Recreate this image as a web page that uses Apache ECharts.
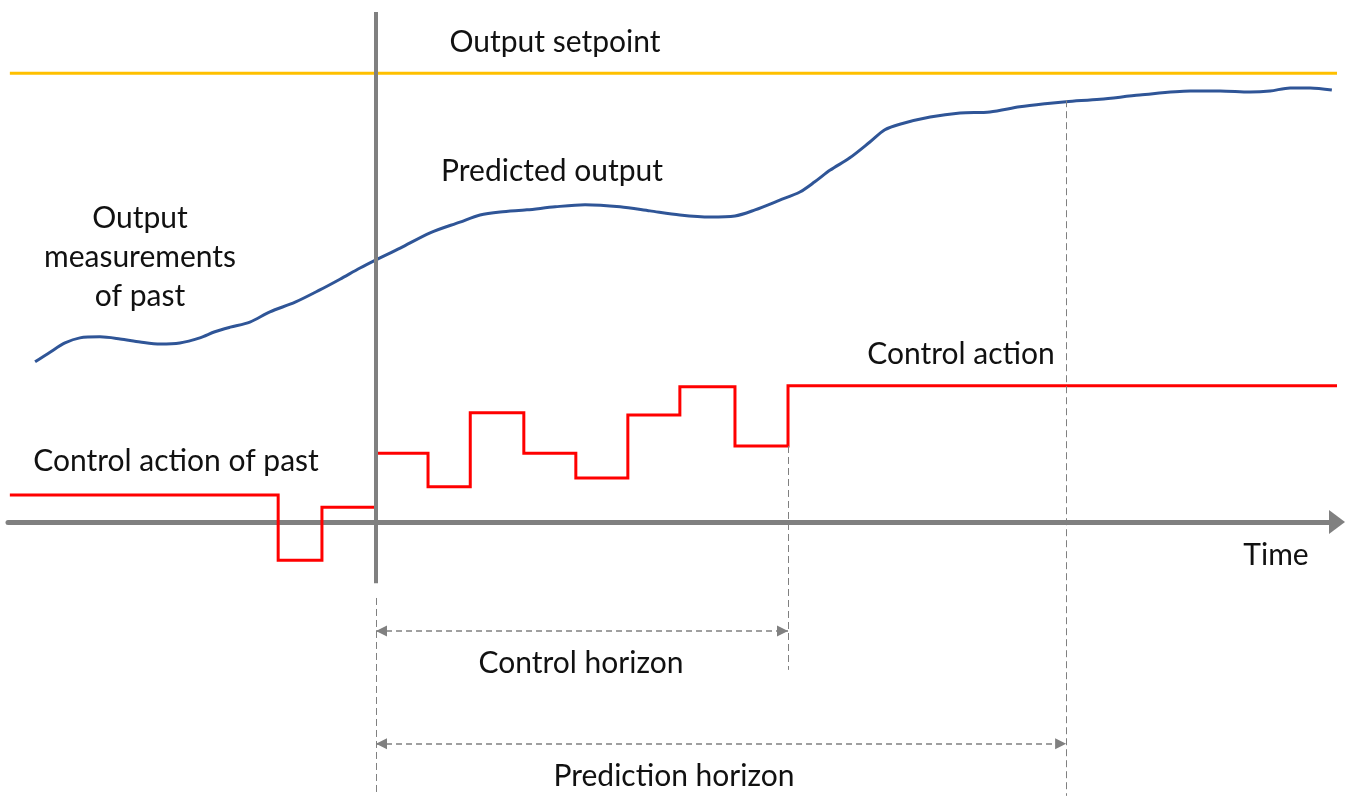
<!DOCTYPE html>
<html>
<head>
<meta charset="utf-8">
<script src="https://cdn.jsdelivr.net/npm/echarts@6/dist/echarts.min.js"></script>
<style>
  html, body { margin: 0; padding: 0; background: #ffffff; }
  #chart { width: 1352px; height: 796px; }
</style>
</head>
<body>
<div id="chart"></div>
<script>
// Time is measured in sample steps (0 = current instant k); signals in % of range.
const setpointTimes = [-7.11, 18.66];
const setpointLevel = 88;

// Measured (t < 0) and predicted (t >= 0) plant output
const outputTimes = [
  -6.62, -6.33, -6.04, -5.75, -5.36, -4.97, -4.58, -4.19, -3.81, -3.42,
  -3.13, -2.83, -2.45, -2.06, -1.57, -1.09, -0.70, -0.31, 0.00, 0.47,
  1.05, 1.63, 2.02, 2.41, 2.93, 3.48, 4.06, 4.74, 5.32, 5.90,
  6.49, 6.97, 7.36, 7.84, 8.23, 8.52, 8.82, 9.20, 9.59, 9.88,
  10.17, 10.76, 11.34, 11.92, 12.50, 12.99, 13.40, 14.06, 14.83, 15.81,
  16.39, 16.97, 17.36, 17.75, 18.14, 18.56
];
const outputValues = [
  31.4, 33.3, 35.1, 36.1, 36.3, 35.9, 35.3, 34.9, 35.1, 36.1,
  37.3, 38.2, 39.2, 41.2, 43.1, 45.5, 47.6, 49.8, 51.4, 53.7,
  56.7, 58.8, 60.2, 60.8, 61.2, 61.8, 62.2, 61.8, 61.0, 60.2,
  59.8, 60.0, 61.2, 63.1, 64.7, 66.7, 69.0, 71.4, 74.5, 76.9,
  78.0, 79.4, 80.2, 80.4, 81.4, 82.0, 82.4, 82.9, 83.7, 84.5,
  84.5, 84.3, 84.5, 85.1, 85.1, 84.7
];

// Piecewise-constant control moves: value held from each time to the next one
const controlTimes  = [-7.11, -1.90, -1.05, 0.00, 1.01, 1.83, 2.87, 3.88, 4.89, 5.90, 6.97, 8.00, 18.66];
const controlValues = [  5.3,  -7.5,   2.9, 13.5,  6.9, 21.4, 13.5,  8.6, 21.0, 26.5, 14.9, 26.7, 26.7];

const controlHorizon = 8.0;
const predictionHorizon = 13.4;

const labels = {
  setpoint: 'Output setpoint',
  predicted: 'Predicted output',
  measured: 'Output\nmeasurements\nof past',
  action: 'Control action',
  pastAction: 'Control action of past',
  time: 'Time',
  ctrlHorizon: 'Control horizon',
  predHorizon: 'Prediction horizon'
};

const zip = (xs, ys) => xs.map((x, i) => [x, ys[i]]);

const GRAY = '#808080';
const FONT = 'Lato, "Open Sans", sans-serif';
const textStyle = (x, y, text) => ({
  type: 'text', x: x, y: y, silent: true,
  style: {
    text: text, fill: '#111111', font: '30px ' + FONT,
    align: 'center', verticalAlign: 'middle', lineHeight: 39
  }
});

const chart = echarts.init(document.getElementById('chart'), null, { renderer: 'canvas' });

const dashed = { color: GRAY, width: 1, type: [7, 4] };
const arrowEnd = (t, v) => ({ coord: [t, v], symbol: 'triangle', symbolSize: [11, 11], symbolOffset: [0, 5.5] });

chart.setOption({
  animation: false,
  backgroundColor: '#ffffff',
  grid: { left: 8, right: 15, top: 0, bottom: 0 },
  xAxis: {
    type: 'value', min: -7.146, max: 18.66,
    axisLine: {
      show: true, onZero: true,
      symbol: ['none', 'triangle'], symbolSize: [24, 16],
      lineStyle: { color: GRAY, width: 5 }
    },
    axisTick: { show: false }, axisLabel: { show: false }, splitLine: { show: false }
  },
  yAxis: {
    type: 'value', min: -53.73, max: 102.35,
    show: false, splitLine: { show: false }
  },
  series: [
    {
      name: 'guides', type: 'line', data: [], clip: false, silent: true, z: 1,
      markLine: {
        silent: true, symbol: 'none', label: { show: false },
        data: [
          [{ coord: [0, 100], lineStyle: { color: GRAY, width: 4, type: 'solid' } }, { coord: [0, -12] }],
          [{ coord: [0, -14.9], lineStyle: dashed }, { coord: [0, -53.7] }],
          [{ coord: [controlHorizon, 14.9], lineStyle: dashed }, { coord: [controlHorizon, -29.0] }],
          [{ coord: [predictionHorizon, 82.7], lineStyle: dashed }, { coord: [predictionHorizon, -53.7] }]
        ]
      }
    },
    {
      name: 'horizons', type: 'line', data: [], clip: false, silent: true, z: 1,
      markLine: {
        silent: true, label: { show: false },
        lineStyle: { color: GRAY, width: 1.5, type: [6, 4] },
        data: [
          [arrowEnd(0, -21.4), arrowEnd(controlHorizon, -21.4)],
          [arrowEnd(0, -43.5), arrowEnd(predictionHorizon, -43.5)]
        ]
      }
    },
    {
      name: labels.setpoint, type: 'line', clip: false, showSymbol: false, z: 3,
      data: setpointTimes.map(t => [t, setpointLevel]),
      lineStyle: { color: '#FFC000', width: 3 }
    },
    {
      name: labels.predicted, type: 'line', clip: false, showSymbol: false, smooth: 0.3, z: 3,
      data: zip(outputTimes, outputValues),
      lineStyle: { color: '#2F5597', width: 3 }
    },
    {
      name: labels.action, type: 'line', clip: false, showSymbol: false, step: 'end', z: 4,
      data: zip(controlTimes, controlValues),
      lineStyle: { color: '#FF0000', width: 3, join: 'miter' }
    }
  ],
  graphic: [
    textStyle(555, 42, labels.setpoint),
    textStyle(552, 171, labels.predicted),
    textStyle(140, 257, labels.measured),
    textStyle(961, 354, labels.action),
    textStyle(176, 461, labels.pastAction),
    textStyle(1276, 555, labels.time),
    textStyle(581, 663, labels.ctrlHorizon),
    textStyle(674, 776, labels.predHorizon)
  ]
});
</script>
</body>
</html>
